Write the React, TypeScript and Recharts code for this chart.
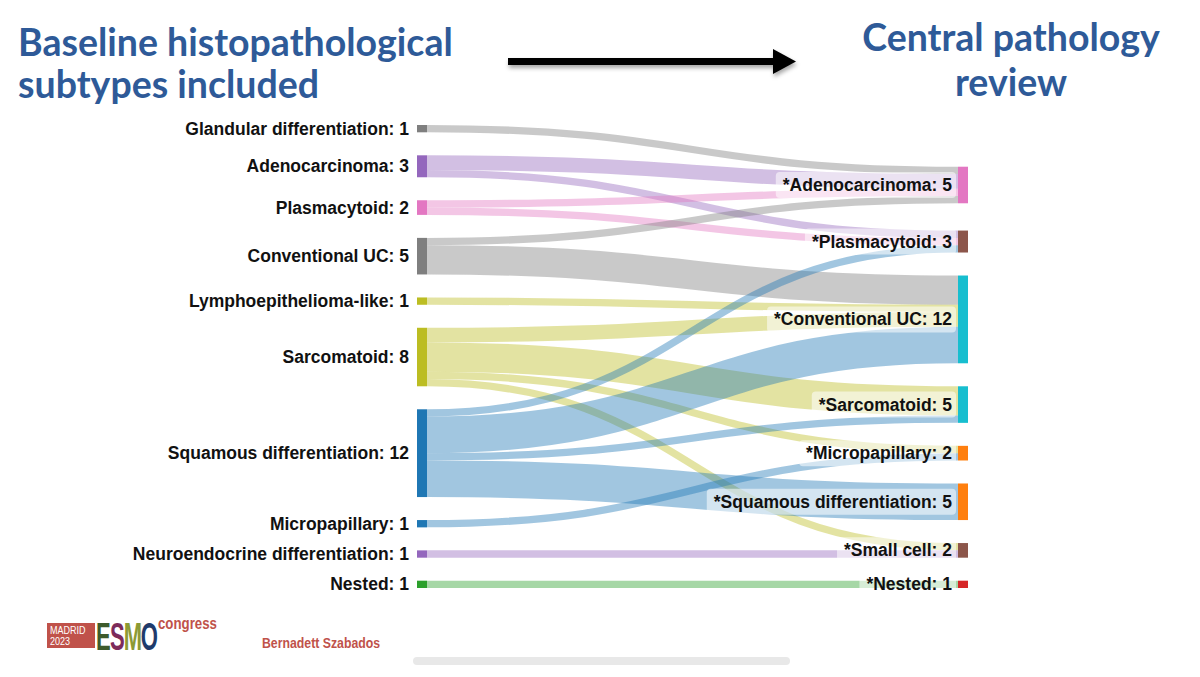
import { Sankey } from "recharts"

// baseline subtypes (left column)
const baselineTypes = [
  "Glandular differentiation",
  "Adenocarcinoma",
  "Plasmacytoid",
  "Conventional UC",
  "Lymphoepithelioma-like",
  "Sarcomatoid",
  "Squamous differentiation",
  "Micropapillary",
  "Neuroendocrine differentiation",
  "Nested",
]

// central review subtypes (right column)
const reviewTypes = [
  "*Adenocarcinoma",
  "*Plasmacytoid",
  "*Conventional UC",
  "*Sarcomatoid",
  "*Micropapillary",
  "*Squamous differentiation",
  "*Small cell",
  "*Nested",
]

// flows: baseline index -> review index, number of patients
const linkFrom = [0, 1, 1, 2, 2, 3, 3, 4, 5, 5, 5, 5, 6, 6, 6, 6, 7, 8, 9]
const linkTo = [0, 0, 1, 0, 1, 0, 2, 2, 2, 3, 4, 6, 1, 2, 3, 5, 4, 6, 7]
const linkCount = [1, 2, 1, 1, 1, 1, 4, 1, 2, 4, 1, 1, 1, 5, 1, 5, 1, 1, 1]

const baselineColors = [
  "#7f7f7f", "#9467bd", "#e377c2", "#7f7f7f", "#bcbd22",
  "#bcbd22", "#1f77b4", "#1f77b4", "#9467bd", "#2ca02c",
]
const reviewColors = [
  "#e377c2", "#8c564b", "#17becf", "#17becf", "#ff7f0e", "#ff7f0e", "#8c564b", "#d62728",
]
const nodeColors = [...baselineColors, ...reviewColors]

const data = {
  nodes: [...baselineTypes, ...reviewTypes].map(name => ({ name })),
  links: linkFrom.map((s, i) => ({
    source: s,
    target: baselineTypes.length + linkTo[i],
    value: linkCount[i],
  })),
}

const LABEL_FONT = "'Liberation Sans', Arial, Helvetica, sans-serif"
const LABEL_SIZE = 17.5
const TITLE_BLUE = "#2e5a98"
const ESMO_RED = "#c0524a"

let measureCtx: CanvasRenderingContext2D | null = null
function textWidth(text: string, font: string) {
  if (!measureCtx) measureCtx = document.createElement("canvas").getContext("2d")
  if (!measureCtx) return text.length * 9.5
  measureCtx.font = font
  return measureCtx.measureText(text).width
}

function NodeShape(props: any) {
  const { x, y, width, height, index, payload } = props
  const isLeft = index < baselineTypes.length
  const label = `${payload.name}: ${payload.value}`
  const cy = y + height / 2
  const rect = <rect x={x} y={y} width={width} height={height} fill={nodeColors[index]} />

  if (isLeft) {
    return (
      <g>
        {rect}
        <text x={x - 8} y={cy} textAnchor="end" dominantBaseline="central"
          fontFamily={LABEL_FONT} fontWeight="bold" fontSize={LABEL_SIZE} fill="#111">
          {label}
        </text>
      </g>
    )
  }
  const w = textWidth(label, `bold ${LABEL_SIZE}px ${LABEL_FONT}`)
  const right = x - 6
  return (
    <g>
      {rect}
      <rect x={right - w - 7} y={cy - 13} width={w + 11} height={26} rx={4}
        fill="#ffffff" fillOpacity={0.55} />
      <text x={right} y={cy} textAnchor="end" dominantBaseline="central"
        fontFamily={LABEL_FONT} fontWeight="bold" fontSize={LABEL_SIZE} fill="#111">
        {label}
      </text>
    </g>
  )
}

function LinkShape(props: any) {
  const { sourceX, targetX, sourceY, targetY, sourceControlX, targetControlX, linkWidth, index } = props
  const color = baselineColors[linkFrom[index]]
  return (
    <path
      d={`M${sourceX},${sourceY}C${sourceControlX},${sourceY} ${targetControlX},${targetY} ${targetX},${targetY}`}
      fill="none"
      stroke={color}
      strokeOpacity={0.42}
      strokeWidth={linkWidth}
    />
  )
}

const titleStyle: React.CSSProperties = {
  position: "absolute",
  fontFamily: "Lato, 'Open Sans', sans-serif",
  fontWeight: 700,
  color: TITLE_BLUE,
  fontSize: 37.5,
  margin: 0,
  whiteSpace: "nowrap",
}

export default function App() {
  return (
    <div style={{ position: "absolute", left: 0, top: 0, width: 1200, height: 677, background: "#fff", overflow: "hidden" }}>
      <div style={{ ...titleStyle, left: 18, top: 21, lineHeight: "42px" }}>
        Baseline histopathological
        <br />
        subtypes included
      </div>
      <div style={{ ...titleStyle, left: 850, top: 14, width: 322, textAlign: "center", lineHeight: "45px" }}>
        Central pathology
        <br />
        review
      </div>

      <svg width={1200} height={120} style={{ position: "absolute", left: 0, top: 0 }}>
        <defs>
          <filter id="arrowShadow" x="-10%" y="-100%" width="120%" height="300%">
            <feDropShadow dx="1" dy="3" stdDeviation="2" floodColor="#000" floodOpacity="0.35" />
          </filter>
        </defs>
        <g filter="url(#arrowShadow)">
          <rect x={508} y={58} width={268} height={7} fill="#000" />
          <polygon points="773,49 796,61.5 773,74" fill="#000" />
        </g>
      </svg>

      <div style={{ position: "absolute", left: 0, top: 0 }}>
        <Sankey
          width={1200}
          height={677}
          data={data}
          node={NodeShape}
          link={LinkShape}
          nodeWidth={10}
          nodePadding={23}
          sort={false}
          iterations={32}
          margin={{ top: 125, left: 417, right: 232, bottom: 89 }}
        />
      </div>

      {/* footer */}
      <svg width={1200} height={80} style={{ position: "absolute", left: 0, top: 600 }}>
        <rect x={47} y={23} width={48} height={25} fill={ESMO_RED} />
        <g fontFamily={LABEL_FONT} fill="#fff" fontSize={11}>
          <text x={50} y={34} transform="translate(50 0) scale(0.82 1) translate(-50 0)">MADRID</text>
          <text x={50} y={45} transform="translate(50 0) scale(0.82 1) translate(-50 0)">2023</text>
        </g>
        <g fontFamily={LABEL_FONT} fontWeight="bold" fontSize={38} transform="translate(96 50) scale(0.58 1)">
          <text x={0} y={0} fill="#3e5b2c">E</text>
          <text x={24} y={0} fill="#7c2b5a">S</text>
          <text x={48} y={0} fill="#8c9a34">M</text>
          <text x={77} y={0} fill="#1f3b6b">O</text>
        </g>
        <text x={0} y={0} transform="translate(158 29) scale(0.78 1)" fontFamily={LABEL_FONT}
          fontWeight="bold" fontSize={17} fill={ESMO_RED}>congress</text>
        <text x={0} y={0} transform="translate(262 48) scale(0.82 1)" fontFamily={LABEL_FONT}
          fontWeight="bold" fontSize={15} fill={ESMO_RED}>Bernadett Szabados</text>
        <rect x={413} y={57} width={377} height={8} rx={4} fill="#e8e8e8" />
      </svg>
    </div>
  )
}
